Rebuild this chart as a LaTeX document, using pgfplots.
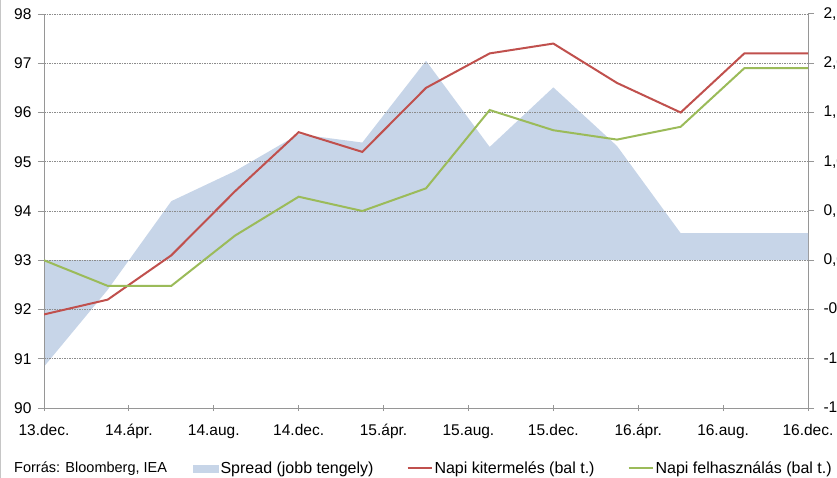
\documentclass[border=0pt]{standalone}
\usepackage{fontspec}
\setmainfont{Liberation Sans}
\usepackage{pgfplots}
\pgfplotsset{compat=1.18}
\definecolor{redl}{RGB}{192,80,77}
\definecolor{greenl}{RGB}{155,187,89}
\definecolor{spreadc}{RGB}{199,213,232}
\definecolor{axc}{RGB}{150,150,150}
\definecolor{gridc}{RGB}{140,140,140}
\pgfplotsset{
  base/.style={
    scale only axis, width=764bp, height=394bp,
    xmin=0, xmax=36,
    xtick={0,4,...,36},
    axis line style={axc, line width=1bp},
    major tick style={axc, line width=1bp},
    major tick length=6bp,
    tick label style={font=\fontsize{15.5bp}{18bp}\selectfont, text=black},
  },
  lineleg/.style={legend image code/.code={\draw[##1] (0bp,0bp) -- (24bp,0bp);}},
  arealeg/.style={legend image code/.code={\fill[spreadc] (0bp,-3.5bp) rectangle (25bp,3.5bp);}},
}
\begin{document}
\begin{tikzpicture}
% right axis: spread
\begin{axis}[base,
  axis y line*=right, axis x line=none,
  ymin=-1.5, ymax=2.5,
  ytick={-1.5,-1,-0.5,0,0.5,1,1.5,2,2.5},
  yticklabels={{-1,5},{-1,0},{-0,5},{0,0},{0,5},{1,0},{1,5},{2,0},{2,5}},
  ytick align=outside,
  yticklabel style={anchor=west, xshift=6bp},
]
\addplot[fill=spreadc, draw=none] coordinates {
  (0,-1.08) (3,-0.3) (6,0.6) (9,0.905) (12,1.28) (15,1.195) (18,2.025)
  (21,1.15) (24,1.755) (27,1.16) (30,0.275) (33,0.275) (36,0.275)
} \closedcycle;
\end{axis}
% left axis: lines
\begin{axis}[base,
  axis y line*=left, axis x line*=bottom,
  ymin=90, ymax=98,
  ytick={90,91,92,93,94,95,96,97,98},
  yticklabels={90,91,92,93,94,95,96,97,98},
  ytick align=outside,
  xtick align=center,
  yticklabel style={anchor=east, xshift=-3bp},
  xticklabel style={anchor=north, yshift=-10bp},
  xticklabels={13.dec.,14.ápr.,14.aug.,14.dec.,15.ápr.,15.aug.,15.dec.,16.ápr.,16.aug.,16.dec.},
  ymajorgrids,
  grid style={gridc, dash pattern=on 1.5bp off 1bp, line width=0.7bp},
  legend columns=-1,
  legend style={at={(axis description cs:0.195,-0.153)}, anchor=west,
    draw=none, fill=none, inner sep=0pt, column sep=0pt,
    font=\fontsize{16bp}{19bp}\selectfont,
    /tikz/every even column/.append style={column sep=31bp},
    cells={inner xsep=0pt}},
  legend cell align=left,
]
\addlegendimage{arealeg}
\addlegendentry{Spread (jobb tengely)}
\addplot[redl, line width=2bp, lineleg] coordinates {
  (0,91.9) (3,92.2) (6,93.1) (9,94.4) (12,95.6) (15,95.2) (18,96.5)
  (21,97.2) (24,97.4) (27,96.6) (30,96.0) (33,97.2) (36,97.2)
};
\addlegendentry{Napi kitermelés (bal t.)}
\addplot[greenl, line width=2bp, lineleg] coordinates {
  (0,93.0) (3,92.48) (6,92.48) (9,93.5) (12,94.29) (15,94.0) (18,94.46)
  (21,96.05) (24,95.64) (27,95.45) (30,95.71) (33,96.9) (36,96.9)
};
\addlegendentry{Napi felhasználás (bal t.)}
\end{axis}
\node[anchor=west, inner sep=0pt, font=\fontsize{14.5bp}{17bp}\selectfont] at (-30bp,-61bp) {Forrás: Bloomberg, IEA};
\draw[gray!45, line width=1bp] (-43.5bp,-70bp) -- (-43.5bp,408bp);
\pgfresetboundingbox
\path[use as bounding box] (-44bp,-70bp) rectangle (793bp,408bp);
\end{tikzpicture}
\end{document}
